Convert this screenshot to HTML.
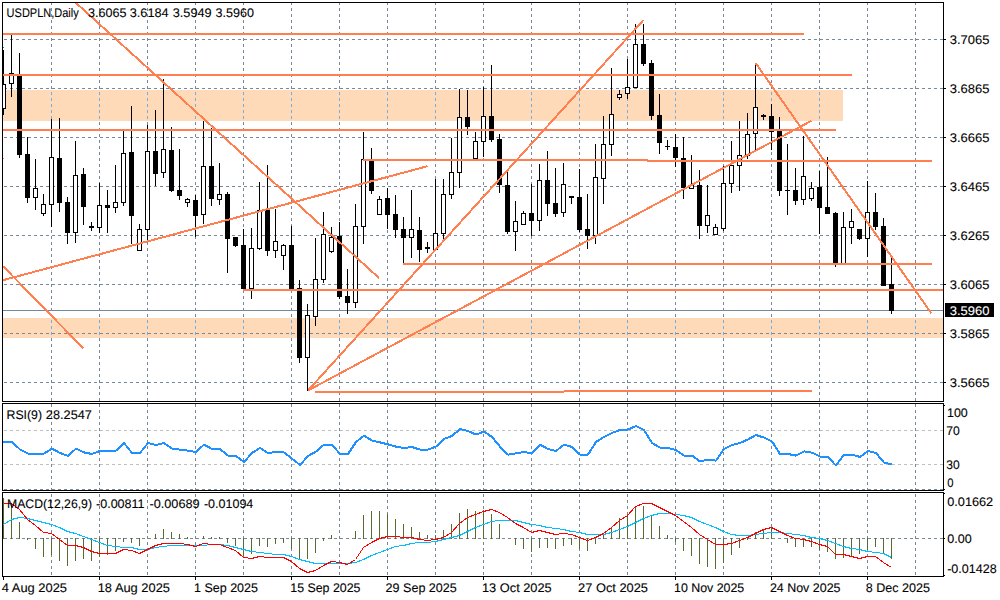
<!DOCTYPE html><html><head><meta charset="utf-8"><title>USDPLN Daily</title>
<style>html,body{margin:0;padding:0;background:#fff;overflow:hidden}svg{display:block}text{font-family:"Liberation Sans",sans-serif;font-size:12.5px;fill:#000;stroke:#000;stroke-width:0.1px;text-rendering:geometricPrecision}</style></head><body>
<svg width="1000" height="600" viewBox="0 0 1000 600" shape-rendering="crispEdges">
<rect x="0" y="0" width="1000" height="600" fill="#fff"/>
<defs><clipPath id="pc">
<rect x="3" y="90" width="840" height="31"/>
<rect x="3" y="318" width="940" height="20"/>
</clipPath>
<clipPath id="m"><rect x="3" y="3" width="940" height="398"/></clipPath>
<clipPath id="r"><rect x="3" y="404" width="940" height="86"/></clipPath>
<clipPath id="d"><rect x="3" y="493" width="940" height="83"/></clipPath>
</defs>
<rect x="3" y="90" width="840" height="31" fill="#FFDAB9"/>
<rect x="3" y="318" width="940" height="20" fill="#FFDAB9"/>
<path d="M51.5 2V401M51.5 404V490M51.5 494V576M99.5 2V401M99.5 404V490M99.5 494V576M147.5 2V401M147.5 404V490M147.5 494V576M195.5 2V401M195.5 404V490M195.5 494V576M243.5 2V401M243.5 404V490M243.5 494V576M291.5 2V401M291.5 404V490M291.5 494V576M339.5 2V401M339.5 404V490M339.5 494V576M387.5 2V401M387.5 404V490M387.5 494V576M435.5 2V401M435.5 404V490M435.5 494V576M483.5 2V401M483.5 404V490M483.5 494V576M531.5 2V401M531.5 404V490M531.5 494V576M579.5 2V401M579.5 404V490M579.5 494V576M627.5 2V401M627.5 404V490M627.5 494V576M675.5 2V401M675.5 404V490M675.5 494V576M723.5 2V401M723.5 404V490M723.5 494V576M771.5 2V401M771.5 404V490M771.5 494V576M819.5 2V401M819.5 404V490M819.5 494V576M867.5 2V401M867.5 404V490M867.5 494V576M915.5 2V401M915.5 404V490M915.5 494V576" stroke="#778899" stroke-width="1" stroke-dasharray="3 3" fill="none"/>
<g clip-path="url(#pc)"><path d="M51.5 2V401M51.5 404V490M51.5 494V576M99.5 2V401M99.5 404V490M99.5 494V576M147.5 2V401M147.5 404V490M147.5 494V576M195.5 2V401M195.5 404V490M195.5 494V576M243.5 2V401M243.5 404V490M243.5 494V576M291.5 2V401M291.5 404V490M291.5 494V576M339.5 2V401M339.5 404V490M339.5 494V576M387.5 2V401M387.5 404V490M387.5 494V576M435.5 2V401M435.5 404V490M435.5 494V576M483.5 2V401M483.5 404V490M483.5 494V576M531.5 2V401M531.5 404V490M531.5 494V576M579.5 2V401M579.5 404V490M579.5 494V576M627.5 2V401M627.5 404V490M627.5 494V576M675.5 2V401M675.5 404V490M675.5 494V576M723.5 2V401M723.5 404V490M723.5 494V576M771.5 2V401M771.5 404V490M771.5 494V576M819.5 2V401M819.5 404V490M819.5 494V576M867.5 2V401M867.5 404V490M867.5 494V576M915.5 2V401M915.5 404V490M915.5 494V576" stroke="#77ADDF" stroke-width="1" stroke-dasharray="3 3" fill="none"/></g>
<path d="M4 39.5H943M4 88.5H943M4 137.5H943M4 186.5H943M4 235.5H943M4 284.5H943M4 333.5H943M4 382.5H943M4 538.5H943" stroke="#778899" stroke-width="1" stroke-dasharray="3 3" fill="none"/>
<path d="M4 430.5H943M4 464.5H943" stroke="#C0C0C0" stroke-width="1" stroke-dasharray="3 3" fill="none"/>
<path d="M4 489.5H943" stroke="#778899" stroke-width="1" stroke-dasharray="3 3" fill="none"/>
<rect x="3" y="310" width="940" height="1" fill="#778899"/>
<g clip-path="url(#m)">
<rect x="3" y="50" width="1" height="65" fill="#000"/>
<rect x="1.5" y="84.5" width="4" height="24" fill="#fff" stroke="#000" stroke-width="1"/>
<rect x="11" y="35" width="1" height="62" fill="#000"/>
<rect x="9.5" y="73.5" width="4" height="10" fill="#fff" stroke="#000" stroke-width="1"/>
<rect x="19" y="53" width="1" height="105" fill="#000"/>
<rect x="17" y="76" width="5" height="79" fill="#000"/>
<rect x="27" y="137" width="1" height="66" fill="#000"/>
<rect x="25" y="154" width="5" height="44" fill="#000"/>
<rect x="35" y="159" width="1" height="51" fill="#000"/>
<rect x="33.5" y="188.5" width="4" height="9" fill="#fff" stroke="#000" stroke-width="1"/>
<rect x="43" y="194" width="1" height="22" fill="#000"/>
<rect x="41.5" y="204.5" width="4" height="9" fill="#fff" stroke="#000" stroke-width="1"/>
<rect x="51" y="119" width="1" height="108" fill="#000"/>
<rect x="49.5" y="157.5" width="4" height="47" fill="#fff" stroke="#000" stroke-width="1"/>
<rect x="59" y="118" width="1" height="94" fill="#000"/>
<rect x="57" y="158" width="5" height="45" fill="#000"/>
<rect x="67" y="197" width="1" height="47" fill="#000"/>
<rect x="65" y="202" width="5" height="31" fill="#000"/>
<rect x="75" y="141" width="1" height="102" fill="#000"/>
<rect x="73.5" y="175.5" width="4" height="57" fill="#fff" stroke="#000" stroke-width="1"/>
<rect x="83" y="168" width="1" height="57" fill="#000"/>
<rect x="81" y="174" width="5" height="33" fill="#000"/>
<rect x="91" y="222" width="1" height="9" fill="#000"/>
<rect x="89" y="226" width="5" height="2" fill="#000"/>
<rect x="99" y="183" width="1" height="50" fill="#000"/>
<rect x="97.5" y="205.5" width="4" height="22" fill="#fff" stroke="#000" stroke-width="1"/>
<rect x="107" y="190" width="1" height="43" fill="#000"/>
<rect x="105" y="205" width="5" height="3" fill="#000"/>
<rect x="115" y="165" width="1" height="48" fill="#000"/>
<rect x="113.5" y="202.5" width="4" height="5" fill="#fff" stroke="#000" stroke-width="1"/>
<rect x="123" y="131" width="1" height="75" fill="#000"/>
<rect x="121.5" y="153.5" width="4" height="49" fill="#fff" stroke="#000" stroke-width="1"/>
<rect x="131" y="106" width="1" height="138" fill="#000"/>
<rect x="129" y="152" width="5" height="64" fill="#000"/>
<rect x="139" y="224" width="1" height="27" fill="#000"/>
<rect x="137.5" y="229.5" width="4" height="21" fill="#fff" stroke="#000" stroke-width="1"/>
<rect x="147" y="125" width="1" height="115" fill="#000"/>
<rect x="145.5" y="151.5" width="4" height="78" fill="#fff" stroke="#000" stroke-width="1"/>
<rect x="155" y="110" width="1" height="76" fill="#000"/>
<rect x="153" y="151" width="5" height="23" fill="#000"/>
<rect x="163" y="79" width="1" height="99" fill="#000"/>
<rect x="161.5" y="149.5" width="4" height="23" fill="#fff" stroke="#000" stroke-width="1"/>
<rect x="171" y="127" width="1" height="65" fill="#000"/>
<rect x="169" y="150" width="5" height="41" fill="#000"/>
<rect x="179" y="149" width="1" height="51" fill="#000"/>
<rect x="177" y="190" width="5" height="6" fill="#000"/>
<rect x="187" y="198" width="1" height="9" fill="#000"/>
<rect x="185.5" y="199.5" width="4" height="3" fill="#fff" stroke="#000" stroke-width="1"/>
<rect x="195" y="195" width="1" height="42" fill="#000"/>
<rect x="193" y="200" width="5" height="16" fill="#000"/>
<rect x="203" y="121" width="1" height="103" fill="#000"/>
<rect x="201.5" y="166.5" width="4" height="48" fill="#fff" stroke="#000" stroke-width="1"/>
<rect x="211" y="128" width="1" height="78" fill="#000"/>
<rect x="209" y="166" width="5" height="33" fill="#000"/>
<rect x="219" y="163" width="1" height="42" fill="#000"/>
<rect x="217.5" y="194.5" width="4" height="5" fill="#fff" stroke="#000" stroke-width="1"/>
<rect x="227" y="192" width="1" height="81" fill="#000"/>
<rect x="225" y="194" width="5" height="45" fill="#000"/>
<rect x="235" y="237" width="1" height="10" fill="#000"/>
<rect x="233" y="237" width="5" height="9" fill="#000"/>
<rect x="243" y="229" width="1" height="60" fill="#000"/>
<rect x="241" y="245" width="5" height="44" fill="#000"/>
<rect x="251" y="228" width="1" height="71" fill="#000"/>
<rect x="249.5" y="248.5" width="4" height="40" fill="#fff" stroke="#000" stroke-width="1"/>
<rect x="259" y="182" width="1" height="68" fill="#000"/>
<rect x="257.5" y="210.5" width="4" height="38" fill="#fff" stroke="#000" stroke-width="1"/>
<rect x="267" y="165" width="1" height="91" fill="#000"/>
<rect x="265" y="210" width="5" height="41" fill="#000"/>
<rect x="275" y="209" width="1" height="49" fill="#000"/>
<rect x="273.5" y="241.5" width="4" height="9" fill="#fff" stroke="#000" stroke-width="1"/>
<rect x="283" y="244" width="1" height="26" fill="#000"/>
<rect x="281.5" y="245.5" width="4" height="10" fill="#fff" stroke="#000" stroke-width="1"/>
<rect x="291" y="226" width="1" height="63" fill="#000"/>
<rect x="289" y="245" width="5" height="44" fill="#000"/>
<rect x="299" y="280" width="1" height="83" fill="#000"/>
<rect x="297" y="288" width="5" height="70" fill="#000"/>
<rect x="307" y="304" width="1" height="87" fill="#000"/>
<rect x="305.5" y="315.5" width="4" height="42" fill="#fff" stroke="#000" stroke-width="1"/>
<rect x="315" y="238" width="1" height="88" fill="#000"/>
<rect x="313.5" y="279.5" width="4" height="37" fill="#fff" stroke="#000" stroke-width="1"/>
<rect x="323" y="212" width="1" height="71" fill="#000"/>
<rect x="321.5" y="234.5" width="4" height="45" fill="#fff" stroke="#000" stroke-width="1"/>
<rect x="331" y="227" width="1" height="26" fill="#000"/>
<rect x="329.5" y="237.5" width="4" height="14" fill="#fff" stroke="#000" stroke-width="1"/>
<rect x="339" y="222" width="1" height="77" fill="#000"/>
<rect x="337" y="236" width="5" height="61" fill="#000"/>
<rect x="347" y="269" width="1" height="45" fill="#000"/>
<rect x="345" y="296" width="5" height="7" fill="#000"/>
<rect x="355" y="204" width="1" height="104" fill="#000"/>
<rect x="353.5" y="226.5" width="4" height="76" fill="#fff" stroke="#000" stroke-width="1"/>
<rect x="363" y="132" width="1" height="112" fill="#000"/>
<rect x="361.5" y="159.5" width="4" height="67" fill="#fff" stroke="#000" stroke-width="1"/>
<rect x="371" y="148" width="1" height="46" fill="#000"/>
<rect x="369" y="160" width="5" height="31" fill="#000"/>
<rect x="379" y="196" width="1" height="19" fill="#000"/>
<rect x="377.5" y="199.5" width="4" height="15" fill="#fff" stroke="#000" stroke-width="1"/>
<rect x="387" y="188" width="1" height="41" fill="#000"/>
<rect x="385" y="198" width="5" height="17" fill="#000"/>
<rect x="395" y="195" width="1" height="43" fill="#000"/>
<rect x="393" y="214" width="5" height="16" fill="#000"/>
<rect x="403" y="217" width="1" height="47" fill="#000"/>
<rect x="401" y="229" width="5" height="9" fill="#000"/>
<rect x="411" y="190" width="1" height="68" fill="#000"/>
<rect x="409.5" y="229.5" width="4" height="8" fill="#fff" stroke="#000" stroke-width="1"/>
<rect x="419" y="217" width="1" height="45" fill="#000"/>
<rect x="417" y="230" width="5" height="20" fill="#000"/>
<rect x="427" y="242" width="1" height="11" fill="#000"/>
<rect x="425" y="247" width="5" height="2" fill="#000"/>
<rect x="435" y="179" width="1" height="71" fill="#000"/>
<rect x="433.5" y="233.5" width="4" height="16" fill="#fff" stroke="#000" stroke-width="1"/>
<rect x="443" y="179" width="1" height="61" fill="#000"/>
<rect x="441.5" y="194.5" width="4" height="39" fill="#fff" stroke="#000" stroke-width="1"/>
<rect x="451" y="138" width="1" height="61" fill="#000"/>
<rect x="449.5" y="172.5" width="4" height="22" fill="#fff" stroke="#000" stroke-width="1"/>
<rect x="459" y="89" width="1" height="99" fill="#000"/>
<rect x="457.5" y="117.5" width="4" height="55" fill="#fff" stroke="#000" stroke-width="1"/>
<rect x="467" y="90" width="1" height="45" fill="#000"/>
<rect x="465" y="117" width="5" height="10" fill="#000"/>
<rect x="475" y="132" width="1" height="27" fill="#000"/>
<rect x="473.5" y="141.5" width="4" height="17" fill="#fff" stroke="#000" stroke-width="1"/>
<rect x="483" y="87" width="1" height="70" fill="#000"/>
<rect x="481.5" y="116.5" width="4" height="25" fill="#fff" stroke="#000" stroke-width="1"/>
<rect x="491" y="65" width="1" height="77" fill="#000"/>
<rect x="489" y="116" width="5" height="24" fill="#000"/>
<rect x="499" y="134" width="1" height="59" fill="#000"/>
<rect x="497" y="139" width="5" height="46" fill="#000"/>
<rect x="507" y="172" width="1" height="62" fill="#000"/>
<rect x="505" y="185" width="5" height="47" fill="#000"/>
<rect x="515" y="201" width="1" height="50" fill="#000"/>
<rect x="513.5" y="221.5" width="4" height="10" fill="#fff" stroke="#000" stroke-width="1"/>
<rect x="523" y="211" width="1" height="14" fill="#000"/>
<rect x="521.5" y="213.5" width="4" height="11" fill="#fff" stroke="#000" stroke-width="1"/>
<rect x="531" y="184" width="1" height="52" fill="#000"/>
<rect x="529" y="213" width="5" height="8" fill="#000"/>
<rect x="539" y="164" width="1" height="67" fill="#000"/>
<rect x="537.5" y="180.5" width="4" height="40" fill="#fff" stroke="#000" stroke-width="1"/>
<rect x="547" y="151" width="1" height="65" fill="#000"/>
<rect x="545" y="180" width="5" height="24" fill="#000"/>
<rect x="555" y="168" width="1" height="49" fill="#000"/>
<rect x="553" y="203" width="5" height="11" fill="#000"/>
<rect x="563" y="163" width="1" height="54" fill="#000"/>
<rect x="561.5" y="184.5" width="4" height="28" fill="#fff" stroke="#000" stroke-width="1"/>
<rect x="571" y="196" width="1" height="8" fill="#000"/>
<rect x="569" y="196" width="5" height="2" fill="#000"/>
<rect x="579" y="169" width="1" height="63" fill="#000"/>
<rect x="577" y="197" width="5" height="33" fill="#000"/>
<rect x="587" y="194" width="1" height="55" fill="#000"/>
<rect x="585" y="229" width="5" height="7" fill="#000"/>
<rect x="595" y="144" width="1" height="100" fill="#000"/>
<rect x="593.5" y="177.5" width="4" height="58" fill="#fff" stroke="#000" stroke-width="1"/>
<rect x="603" y="116" width="1" height="88" fill="#000"/>
<rect x="601.5" y="144.5" width="4" height="34" fill="#fff" stroke="#000" stroke-width="1"/>
<rect x="611" y="68" width="1" height="88" fill="#000"/>
<rect x="609.5" y="114.5" width="4" height="30" fill="#fff" stroke="#000" stroke-width="1"/>
<rect x="619" y="90" width="1" height="10" fill="#000"/>
<rect x="617.5" y="94.5" width="4" height="3" fill="#fff" stroke="#000" stroke-width="1"/>
<rect x="627" y="59" width="1" height="40" fill="#000"/>
<rect x="625.5" y="87.5" width="4" height="6" fill="#fff" stroke="#000" stroke-width="1"/>
<rect x="635" y="24" width="1" height="64" fill="#000"/>
<rect x="633.5" y="44.5" width="4" height="43" fill="#fff" stroke="#000" stroke-width="1"/>
<rect x="643" y="24" width="1" height="42" fill="#000"/>
<rect x="641" y="44" width="5" height="20" fill="#000"/>
<rect x="651" y="60" width="1" height="60" fill="#000"/>
<rect x="649" y="63" width="5" height="53" fill="#000"/>
<rect x="659" y="94" width="1" height="60" fill="#000"/>
<rect x="657" y="115" width="5" height="28" fill="#000"/>
<rect x="667" y="140" width="1" height="10" fill="#000"/>
<rect x="665" y="146" width="5" height="1" fill="#000"/>
<rect x="675" y="134" width="1" height="33" fill="#000"/>
<rect x="673" y="147" width="5" height="11" fill="#000"/>
<rect x="683" y="137" width="1" height="62" fill="#000"/>
<rect x="681" y="158" width="5" height="30" fill="#000"/>
<rect x="691" y="155" width="1" height="34" fill="#000"/>
<rect x="689.5" y="185.5" width="4" height="3" fill="#fff" stroke="#000" stroke-width="1"/>
<rect x="699" y="170" width="1" height="69" fill="#000"/>
<rect x="697" y="185" width="5" height="41" fill="#000"/>
<rect x="707" y="185" width="1" height="48" fill="#000"/>
<rect x="705.5" y="215.5" width="4" height="10" fill="#fff" stroke="#000" stroke-width="1"/>
<rect x="715" y="224" width="1" height="11" fill="#000"/>
<rect x="713.5" y="227.5" width="4" height="7" fill="#fff" stroke="#000" stroke-width="1"/>
<rect x="723" y="166" width="1" height="65" fill="#000"/>
<rect x="721.5" y="183.5" width="4" height="45" fill="#fff" stroke="#000" stroke-width="1"/>
<rect x="731" y="141" width="1" height="52" fill="#000"/>
<rect x="729.5" y="165.5" width="4" height="18" fill="#fff" stroke="#000" stroke-width="1"/>
<rect x="739" y="121" width="1" height="70" fill="#000"/>
<rect x="737.5" y="155.5" width="4" height="10" fill="#fff" stroke="#000" stroke-width="1"/>
<rect x="747" y="113" width="1" height="46" fill="#000"/>
<rect x="745.5" y="134.5" width="4" height="21" fill="#fff" stroke="#000" stroke-width="1"/>
<rect x="755" y="64" width="1" height="86" fill="#000"/>
<rect x="753.5" y="107.5" width="4" height="26" fill="#fff" stroke="#000" stroke-width="1"/>
<rect x="763" y="114" width="1" height="6" fill="#000"/>
<rect x="761" y="115" width="5" height="2" fill="#000"/>
<rect x="771" y="104" width="1" height="46" fill="#000"/>
<rect x="769" y="116" width="5" height="16" fill="#000"/>
<rect x="779" y="117" width="1" height="79" fill="#000"/>
<rect x="777" y="130" width="5" height="61" fill="#000"/>
<rect x="787" y="144" width="1" height="71" fill="#000"/>
<rect x="785" y="190" width="5" height="1" fill="#000"/>
<rect x="795" y="168" width="1" height="37" fill="#000"/>
<rect x="793" y="190" width="5" height="11" fill="#000"/>
<rect x="803" y="136" width="1" height="69" fill="#000"/>
<rect x="801.5" y="176.5" width="4" height="23" fill="#fff" stroke="#000" stroke-width="1"/>
<rect x="811" y="182" width="1" height="19" fill="#000"/>
<rect x="809.5" y="188.5" width="4" height="10" fill="#fff" stroke="#000" stroke-width="1"/>
<rect x="819" y="171" width="1" height="63" fill="#000"/>
<rect x="817" y="187" width="5" height="21" fill="#000"/>
<rect x="827" y="157" width="1" height="57" fill="#000"/>
<rect x="825" y="207" width="5" height="7" fill="#000"/>
<rect x="835" y="212" width="1" height="55" fill="#000"/>
<rect x="833" y="213" width="5" height="51" fill="#000"/>
<rect x="843" y="212" width="1" height="52" fill="#000"/>
<rect x="841.5" y="227.5" width="4" height="36" fill="#fff" stroke="#000" stroke-width="1"/>
<rect x="851" y="209" width="1" height="35" fill="#000"/>
<rect x="849.5" y="221.5" width="4" height="6" fill="#fff" stroke="#000" stroke-width="1"/>
<rect x="859" y="229" width="1" height="11" fill="#000"/>
<rect x="857" y="229" width="5" height="10" fill="#000"/>
<rect x="867" y="181" width="1" height="76" fill="#000"/>
<rect x="865.5" y="212.5" width="4" height="26" fill="#fff" stroke="#000" stroke-width="1"/>
<rect x="875" y="193" width="1" height="37" fill="#000"/>
<rect x="873" y="212" width="5" height="15" fill="#000"/>
<rect x="883" y="218" width="1" height="68" fill="#000"/>
<rect x="881" y="226" width="5" height="60" fill="#000"/>
<rect x="891" y="258" width="1" height="56" fill="#000"/>
<rect x="889" y="284" width="5" height="27" fill="#000"/>
</g>
<rect x="3" y="33" width="801" height="2" fill="#FF7F50"/>
<rect x="3" y="74" width="849" height="2" fill="#FF7F50"/>
<rect x="3" y="129" width="833" height="2" fill="#FF7F50"/>
<rect x="363" y="159" width="285" height="2" fill="#FF7F50"/>
<rect x="647" y="160" width="285" height="2" fill="#FF7F50"/>
<rect x="403" y="263" width="529" height="2" fill="#FF7F50"/>
<rect x="243" y="289" width="700" height="2" fill="#FF7F50"/>
<rect x="315" y="391" width="249" height="2" fill="#FF7F50"/>
<rect x="564" y="390" width="248" height="2" fill="#FF7F50"/>
<g clip-path="url(#m)">
<line x1="3" y1="280.2" x2="427.5" y2="166.2" stroke="#FF7F50" stroke-width="2"/>
<line x1="3" y1="266.2" x2="83.5" y2="348.5" stroke="#FF7F50" stroke-width="2"/>
<line x1="75" y1="2" x2="379" y2="278" stroke="#FF7F50" stroke-width="2"/>
<line x1="308" y1="390.5" x2="643.5" y2="20" stroke="#FF7F50" stroke-width="2"/>
<line x1="308" y1="390.5" x2="811.5" y2="120.7" stroke="#FF7F50" stroke-width="2"/>
<line x1="755.6" y1="63" x2="931.5" y2="313.5" stroke="#FF7F50" stroke-width="2"/>
</g>
<polyline points="3,442.0 4,442.0 12,442.0 20,449.4 28,453.6 36,453.6 44,453.6 52,448.6 60,453.0 68,456.0 76,448.6 84,452.4 92,454.0 100,451.0 108,451.0 116,450.6 124,443.0 132,453.0 140,453.0 148,443.0 156,445.0 164,443.0 172,448.6 180,449.6 188,450.6 196,452.0 204,444.6 212,449.0 220,449.0 228,455.6 236,456.0 244,462.0 252,453.0 260,448.0 268,453.0 276,452.0 284,452.4 292,458.6 300,465.0 308,456.0 316,451.6 324,444.6 332,444.6 340,454.0 348,454.0 356,442.0 364,435.6 372,440.6 380,442.4 388,444.4 396,446.6 404,448.0 412,447.0 420,449.6 428,449.6 436,446.6 444,439.0 452,436.0 460,429.0 468,431.0 476,434.6 484,431.6 492,437.0 500,446.6 508,454.6 516,453.4 524,452.0 532,453.4 540,444.6 548,449.0 556,451.0 564,444.6 572,447.0 580,454.6 588,454.6 596,442.0 604,437.0 612,433.0 620,430.0 628,429.6 636,426.0 644,430.0 652,443.0 660,447.6 668,448.0 676,450.0 684,455.6 692,455.6 700,461.6 708,459.6 716,460.6 724,449.0 732,445.0 740,443.0 748,439.4 756,435.0 764,437.6 772,441.4 780,454.0 788,454.0 796,455.6 804,451.4 812,452.6 820,456.6 828,457.0 836,465.6 844,454.6 852,454.6 860,457.0 868,451.0 876,453.0 884,462.6 892,464.6" fill="none" stroke="#1E90FF" stroke-width="2" stroke-linejoin="round" clip-path="url(#r)"/>
<g clip-path="url(#d)">
<rect x="3" y="498" width="1" height="41" fill="#556B2F"/>
<rect x="11" y="504" width="1" height="35" fill="#556B2F"/>
<rect x="19" y="522" width="1" height="17" fill="#556B2F"/>
<rect x="27" y="538" width="1" height="2" fill="#556B2F"/>
<rect x="35" y="538" width="1" height="11" fill="#556B2F"/>
<rect x="43" y="538" width="1" height="19" fill="#556B2F"/>
<rect x="51" y="538" width="1" height="17" fill="#556B2F"/>
<rect x="59" y="538" width="1" height="23" fill="#556B2F"/>
<rect x="67" y="538" width="1" height="28" fill="#556B2F"/>
<rect x="75" y="538" width="1" height="23" fill="#556B2F"/>
<rect x="83" y="538" width="1" height="21" fill="#556B2F"/>
<rect x="91" y="538" width="1" height="23" fill="#556B2F"/>
<rect x="99" y="538" width="1" height="19" fill="#556B2F"/>
<rect x="107" y="538" width="1" height="17" fill="#556B2F"/>
<rect x="115" y="538" width="1" height="13" fill="#556B2F"/>
<rect x="123" y="538" width="1" height="4" fill="#556B2F"/>
<rect x="131" y="538" width="1" height="5" fill="#556B2F"/>
<rect x="139" y="538" width="1" height="8" fill="#556B2F"/>
<rect x="155" y="534" width="1" height="5" fill="#556B2F"/>
<rect x="163" y="529" width="1" height="10" fill="#556B2F"/>
<rect x="171" y="532" width="1" height="7" fill="#556B2F"/>
<rect x="179" y="534" width="1" height="5" fill="#556B2F"/>
<rect x="187" y="537" width="1" height="2" fill="#556B2F"/>
<rect x="203" y="536" width="1" height="3" fill="#556B2F"/>
<rect x="211" y="537" width="1" height="2" fill="#556B2F"/>
<rect x="219" y="537" width="1" height="2" fill="#556B2F"/>
<rect x="227" y="538" width="1" height="5" fill="#556B2F"/>
<rect x="235" y="538" width="1" height="8" fill="#556B2F"/>
<rect x="243" y="538" width="1" height="18" fill="#556B2F"/>
<rect x="251" y="538" width="1" height="16" fill="#556B2F"/>
<rect x="259" y="538" width="1" height="8" fill="#556B2F"/>
<rect x="267" y="538" width="1" height="9" fill="#556B2F"/>
<rect x="275" y="538" width="1" height="6" fill="#556B2F"/>
<rect x="283" y="538" width="1" height="5" fill="#556B2F"/>
<rect x="291" y="538" width="1" height="11" fill="#556B2F"/>
<rect x="299" y="538" width="1" height="21" fill="#556B2F"/>
<rect x="307" y="538" width="1" height="21" fill="#556B2F"/>
<rect x="315" y="538" width="1" height="15" fill="#556B2F"/>
<rect x="323" y="538" width="1" height="3" fill="#556B2F"/>
<rect x="331" y="535" width="1" height="4" fill="#556B2F"/>
<rect x="355" y="531" width="1" height="8" fill="#556B2F"/>
<rect x="363" y="515" width="1" height="24" fill="#556B2F"/>
<rect x="371" y="511" width="1" height="28" fill="#556B2F"/>
<rect x="379" y="511" width="1" height="28" fill="#556B2F"/>
<rect x="387" y="514" width="1" height="25" fill="#556B2F"/>
<rect x="395" y="519" width="1" height="20" fill="#556B2F"/>
<rect x="403" y="524" width="1" height="15" fill="#556B2F"/>
<rect x="411" y="527" width="1" height="12" fill="#556B2F"/>
<rect x="419" y="532" width="1" height="7" fill="#556B2F"/>
<rect x="427" y="535" width="1" height="4" fill="#556B2F"/>
<rect x="435" y="535" width="1" height="4" fill="#556B2F"/>
<rect x="443" y="530" width="1" height="9" fill="#556B2F"/>
<rect x="451" y="524" width="1" height="15" fill="#556B2F"/>
<rect x="459" y="513" width="1" height="26" fill="#556B2F"/>
<rect x="467" y="509" width="1" height="30" fill="#556B2F"/>
<rect x="475" y="511" width="1" height="28" fill="#556B2F"/>
<rect x="483" y="510" width="1" height="29" fill="#556B2F"/>
<rect x="491" y="514" width="1" height="25" fill="#556B2F"/>
<rect x="499" y="524" width="1" height="15" fill="#556B2F"/>
<rect x="515" y="538" width="1" height="7" fill="#556B2F"/>
<rect x="523" y="538" width="1" height="11" fill="#556B2F"/>
<rect x="531" y="538" width="1" height="14" fill="#556B2F"/>
<rect x="539" y="538" width="1" height="10" fill="#556B2F"/>
<rect x="547" y="538" width="1" height="10" fill="#556B2F"/>
<rect x="555" y="538" width="1" height="11" fill="#556B2F"/>
<rect x="563" y="538" width="1" height="8" fill="#556B2F"/>
<rect x="571" y="538" width="1" height="7" fill="#556B2F"/>
<rect x="579" y="538" width="1" height="11" fill="#556B2F"/>
<rect x="587" y="538" width="1" height="13" fill="#556B2F"/>
<rect x="595" y="538" width="1" height="6" fill="#556B2F"/>
<rect x="603" y="535" width="1" height="4" fill="#556B2F"/>
<rect x="611" y="527" width="1" height="12" fill="#556B2F"/>
<rect x="619" y="518" width="1" height="21" fill="#556B2F"/>
<rect x="627" y="514" width="1" height="25" fill="#556B2F"/>
<rect x="635" y="507" width="1" height="32" fill="#556B2F"/>
<rect x="643" y="506" width="1" height="33" fill="#556B2F"/>
<rect x="651" y="516" width="1" height="23" fill="#556B2F"/>
<rect x="659" y="526" width="1" height="13" fill="#556B2F"/>
<rect x="667" y="535" width="1" height="4" fill="#556B2F"/>
<rect x="675" y="538" width="1" height="4" fill="#556B2F"/>
<rect x="683" y="538" width="1" height="13" fill="#556B2F"/>
<rect x="691" y="538" width="1" height="18" fill="#556B2F"/>
<rect x="699" y="538" width="1" height="26" fill="#556B2F"/>
<rect x="707" y="538" width="1" height="29" fill="#556B2F"/>
<rect x="715" y="538" width="1" height="31" fill="#556B2F"/>
<rect x="723" y="538" width="1" height="25" fill="#556B2F"/>
<rect x="731" y="538" width="1" height="17" fill="#556B2F"/>
<rect x="739" y="538" width="1" height="10" fill="#556B2F"/>
<rect x="747" y="538" width="1" height="2" fill="#556B2F"/>
<rect x="755" y="532" width="1" height="7" fill="#556B2F"/>
<rect x="763" y="529" width="1" height="10" fill="#556B2F"/>
<rect x="771" y="527" width="1" height="12" fill="#556B2F"/>
<rect x="787" y="538" width="1" height="5" fill="#556B2F"/>
<rect x="795" y="538" width="1" height="9" fill="#556B2F"/>
<rect x="803" y="538" width="1" height="9" fill="#556B2F"/>
<rect x="811" y="538" width="1" height="9" fill="#556B2F"/>
<rect x="819" y="538" width="1" height="12" fill="#556B2F"/>
<rect x="827" y="538" width="1" height="14" fill="#556B2F"/>
<rect x="835" y="538" width="1" height="21" fill="#556B2F"/>
<rect x="843" y="538" width="1" height="20" fill="#556B2F"/>
<rect x="851" y="538" width="1" height="18" fill="#556B2F"/>
<rect x="859" y="538" width="1" height="16" fill="#556B2F"/>
<rect x="867" y="538" width="1" height="12" fill="#556B2F"/>
<rect x="875" y="538" width="1" height="9" fill="#556B2F"/>
<rect x="883" y="538" width="1" height="16" fill="#556B2F"/>
<rect x="891" y="538" width="1" height="21" fill="#556B2F"/>
<polyline points="3.5,524.5 11.5,519.5 19.5,517.5 27.5,518.5 35.5,520.5 43.5,522.5 51.5,524.5 59.5,527.5 67.5,531.5 75.5,533.5 83.5,536.5 91.5,539.5 99.5,542.5 107.5,545.5 115.5,546.5 123.5,547.5 131.5,547.5 139.5,549.5 147.5,549.5 155.5,547.5 163.5,546.5 171.5,545.5 179.5,545.5 187.5,545.5 195.5,545.5 203.5,545.5 211.5,544.5 219.5,544.5 227.5,545.5 235.5,547.5 243.5,549.5 251.5,551.5 259.5,552.5 267.5,553.5 275.5,554.5 283.5,554.5 291.5,556.5 299.5,559.5 307.5,561.5 315.5,563.5 323.5,563.5 331.5,563.5 339.5,563.5 347.5,563.5 355.5,562.5 363.5,559.5 371.5,555.5 379.5,552.5 387.5,549.5 395.5,546.5 403.5,545.5 411.5,543.5 419.5,542.5 427.5,542.5 435.5,541.5 443.5,539.5 451.5,537.5 459.5,535.5 467.5,531.5 475.5,527.5 483.5,524.5 491.5,521.5 499.5,520.5 507.5,520.5 515.5,520.5 523.5,522.5 531.5,524.5 539.5,525.5 547.5,527.5 555.5,528.5 563.5,529.5 571.5,531.5 579.5,532.5 587.5,534.5 595.5,534.5 603.5,534.5 611.5,532.5 619.5,529.5 627.5,526.5 635.5,522.5 643.5,518.5 651.5,515.5 659.5,513.5 667.5,513.5 675.5,514.5 683.5,515.5 691.5,517.5 699.5,521.5 707.5,524.5 715.5,527.5 723.5,531.5 731.5,534.5 739.5,535.5 747.5,535.5 755.5,534.5 763.5,533.5 771.5,532.5 779.5,532.5 787.5,533.5 795.5,534.5 803.5,535.5 811.5,537.5 819.5,538.5 827.5,540.5 835.5,543.5 843.5,546.5 851.5,548.5 859.5,549.5 867.5,551.5 875.5,552.5 883.5,553.5 891.5,557.5" fill="none" stroke="#00BFFF" stroke-width="1"/>
<polyline points="3.5,503.5 11.5,503.5 19.5,509.5 27.5,519.5 35.5,525.5 43.5,532.5 51.5,533.5 59.5,539.5 67.5,545.5 75.5,545.5 83.5,547.5 91.5,551.5 99.5,553.5 107.5,553.5 115.5,553.5 123.5,549.5 131.5,550.5 139.5,553.5 147.5,549.5 155.5,545.5 163.5,543.5 171.5,543.5 179.5,543.5 187.5,544.5 195.5,546.5 203.5,543.5 211.5,544.5 219.5,544.5 227.5,547.5 235.5,550.5 243.5,557.5 251.5,558.5 259.5,556.5 267.5,557.5 275.5,557.5 283.5,557.5 291.5,561.5 299.5,568.5 307.5,572.5 315.5,570.5 323.5,565.5 331.5,561.5 339.5,562.5 347.5,564.5 355.5,559.5 363.5,547.5 371.5,542.5 379.5,538.5 387.5,536.5 395.5,536.5 403.5,537.5 411.5,537.5 419.5,539.5 427.5,540.5 435.5,539.5 443.5,537.5 451.5,532.5 459.5,523.5 467.5,517.5 475.5,514.5 483.5,511.5 491.5,509.5 499.5,512.5 507.5,517.5 515.5,523.5 523.5,527.5 531.5,532.5 539.5,530.5 547.5,532.5 555.5,534.5 563.5,533.5 571.5,534.5 579.5,537.5 587.5,540.5 595.5,537.5 603.5,533.5 611.5,527.5 619.5,520.5 627.5,515.5 635.5,506.5 643.5,503.5 651.5,503.5 659.5,507.5 667.5,511.5 675.5,515.5 683.5,521.5 691.5,527.5 699.5,534.5 707.5,539.5 715.5,544.5 723.5,544.5 731.5,543.5 739.5,540.5 747.5,537.5 755.5,533.5 763.5,529.5 771.5,527.5 779.5,531.5 787.5,535.5 795.5,538.5 803.5,539.5 811.5,541.5 819.5,544.5 827.5,546.5 835.5,554.5 843.5,554.5 851.5,556.5 859.5,558.5 867.5,556.5 875.5,556.5 883.5,562.5 891.5,567.5" fill="none" stroke="#FF0000" stroke-width="1"/>
</g>
<path d="M2.5 2.5H943.5V401.5H2.5Z" fill="none" stroke="#000" stroke-width="1"/>
<path d="M2.5 403.5H943.5V490.5H2.5Z" fill="none" stroke="#000" stroke-width="1"/>
<path d="M2.5 492.5H943.5V576.5H2.5Z" fill="none" stroke="#000" stroke-width="1"/>
<rect x="944" y="39" width="2" height="1" fill="#000"/>
<rect x="944" y="88" width="2" height="1" fill="#000"/>
<rect x="944" y="137" width="2" height="1" fill="#000"/>
<rect x="944" y="186" width="2" height="1" fill="#000"/>
<rect x="944" y="235" width="2" height="1" fill="#000"/>
<rect x="944" y="284" width="2" height="1" fill="#000"/>
<rect x="944" y="333" width="2" height="1" fill="#000"/>
<rect x="944" y="382" width="2" height="1" fill="#000"/>
<rect x="944" y="405" width="1" height="1" fill="#000"/>
<rect x="944" y="489" width="1" height="1" fill="#000"/>
<rect x="944" y="493" width="1" height="1" fill="#000"/>
<rect x="944" y="538" width="1" height="1" fill="#000"/>
<rect x="944" y="575" width="1" height="1" fill="#000"/>
<rect x="3" y="158" width="1" height="1" fill="#FF7F50"/>
<rect x="3" y="47" width="1" height="1" fill="#00A0A0"/>
<rect x="3" y="577" width="1" height="3" fill="#000"/>
<rect x="99" y="577" width="1" height="3" fill="#000"/>
<rect x="195" y="577" width="1" height="3" fill="#000"/>
<rect x="291" y="577" width="1" height="3" fill="#000"/>
<rect x="387" y="577" width="1" height="3" fill="#000"/>
<rect x="483" y="577" width="1" height="3" fill="#000"/>
<rect x="579" y="577" width="1" height="3" fill="#000"/>
<rect x="675" y="577" width="1" height="3" fill="#000"/>
<rect x="771" y="577" width="1" height="3" fill="#000"/>
<rect x="867" y="577" width="1" height="3" fill="#000"/>
<rect x="945" y="303" width="49" height="14" fill="#000"/>
<text x="6.62" y="17" textLength="72.16" lengthAdjust="spacingAndGlyphs">USDPLN,Daily</text>
<text x="87.90" y="17" textLength="38.49" lengthAdjust="spacingAndGlyphs">3.6065</text>
<text x="129.69" y="17" textLength="38.98" lengthAdjust="spacingAndGlyphs">3.6184</text>
<text x="172.69" y="17" textLength="38.93" lengthAdjust="spacingAndGlyphs">3.5949</text>
<text x="215.50" y="17" textLength="38.39" lengthAdjust="spacingAndGlyphs">3.5960</text>
<text x="949.68" y="44" textLength="39.72" lengthAdjust="spacingAndGlyphs">3.7065</text>
<text x="949.68" y="93" textLength="39.72" lengthAdjust="spacingAndGlyphs">3.6865</text>
<text x="949.68" y="142" textLength="39.72" lengthAdjust="spacingAndGlyphs">3.6665</text>
<text x="949.68" y="191" textLength="39.72" lengthAdjust="spacingAndGlyphs">3.6465</text>
<text x="949.68" y="240" textLength="39.72" lengthAdjust="spacingAndGlyphs">3.6265</text>
<text x="949.68" y="289" textLength="39.72" lengthAdjust="spacingAndGlyphs">3.6065</text>
<text x="949.68" y="338" textLength="39.72" lengthAdjust="spacingAndGlyphs">3.5865</text>
<text x="949.68" y="387" textLength="39.72" lengthAdjust="spacingAndGlyphs">3.5665</text>
<text x="949.68" y="315" textLength="39.72" lengthAdjust="spacingAndGlyphs" style="fill:#fff;stroke:#fff">3.5960</text>
<text x="6.52" y="419" textLength="35.52" lengthAdjust="spacingAndGlyphs">RSI(9)</text>
<text x="45.86" y="419" textLength="46.04" lengthAdjust="spacingAndGlyphs">28.2547</text>
<text x="947.00" y="417" textLength="20.78" lengthAdjust="spacingAndGlyphs">100</text>
<text x="946.19" y="435" textLength="13.52" lengthAdjust="spacingAndGlyphs">70</text>
<text x="946.32" y="469" textLength="13.39" lengthAdjust="spacingAndGlyphs">30</text>
<text x="947.25" y="487" textLength="6.26" lengthAdjust="spacingAndGlyphs">0</text>
<text x="7.02" y="508" textLength="84.98" lengthAdjust="spacingAndGlyphs">MACD(12,26,9)</text>
<text x="96.00" y="508" textLength="48.55" lengthAdjust="spacingAndGlyphs">-0.00811</text>
<text x="149.49" y="508" textLength="50.13" lengthAdjust="spacingAndGlyphs">-0.00689</text>
<text x="203.90" y="508" textLength="49.46" lengthAdjust="spacingAndGlyphs">-0.01094</text>
<text x="947.19" y="506" textLength="46.01" lengthAdjust="spacingAndGlyphs">0.01662</text>
<text x="947.20" y="543" textLength="24.47" lengthAdjust="spacingAndGlyphs">0.00</text>
<text x="947.20" y="573" textLength="49.59" lengthAdjust="spacingAndGlyphs">-0.01428</text>
<text x="1.74" y="592" textLength="65.29" lengthAdjust="spacingAndGlyphs">4 Aug 2025</text>
<text x="97.72" y="592" textLength="72.26" lengthAdjust="spacingAndGlyphs">18 Aug 2025</text>
<text x="194.00" y="592" textLength="63.95" lengthAdjust="spacingAndGlyphs">1 Sep 2025</text>
<text x="290.26" y="592" textLength="70.27" lengthAdjust="spacingAndGlyphs">15 Sep 2025</text>
<text x="385.62" y="592" textLength="71.16" lengthAdjust="spacingAndGlyphs">29 Sep 2025</text>
<text x="481.98" y="592" textLength="69.77" lengthAdjust="spacingAndGlyphs">13 Oct 2025</text>
<text x="578.11" y="592" textLength="69.89" lengthAdjust="spacingAndGlyphs">27 Oct 2025</text>
<text x="674.01" y="592" textLength="70.25" lengthAdjust="spacingAndGlyphs">10 Nov 2025</text>
<text x="769.88" y="592" textLength="70.64" lengthAdjust="spacingAndGlyphs">24 Nov 2025</text>
<text x="865.75" y="592" textLength="64.32" lengthAdjust="spacingAndGlyphs">8 Dec 2025</text>
</svg></body></html>
